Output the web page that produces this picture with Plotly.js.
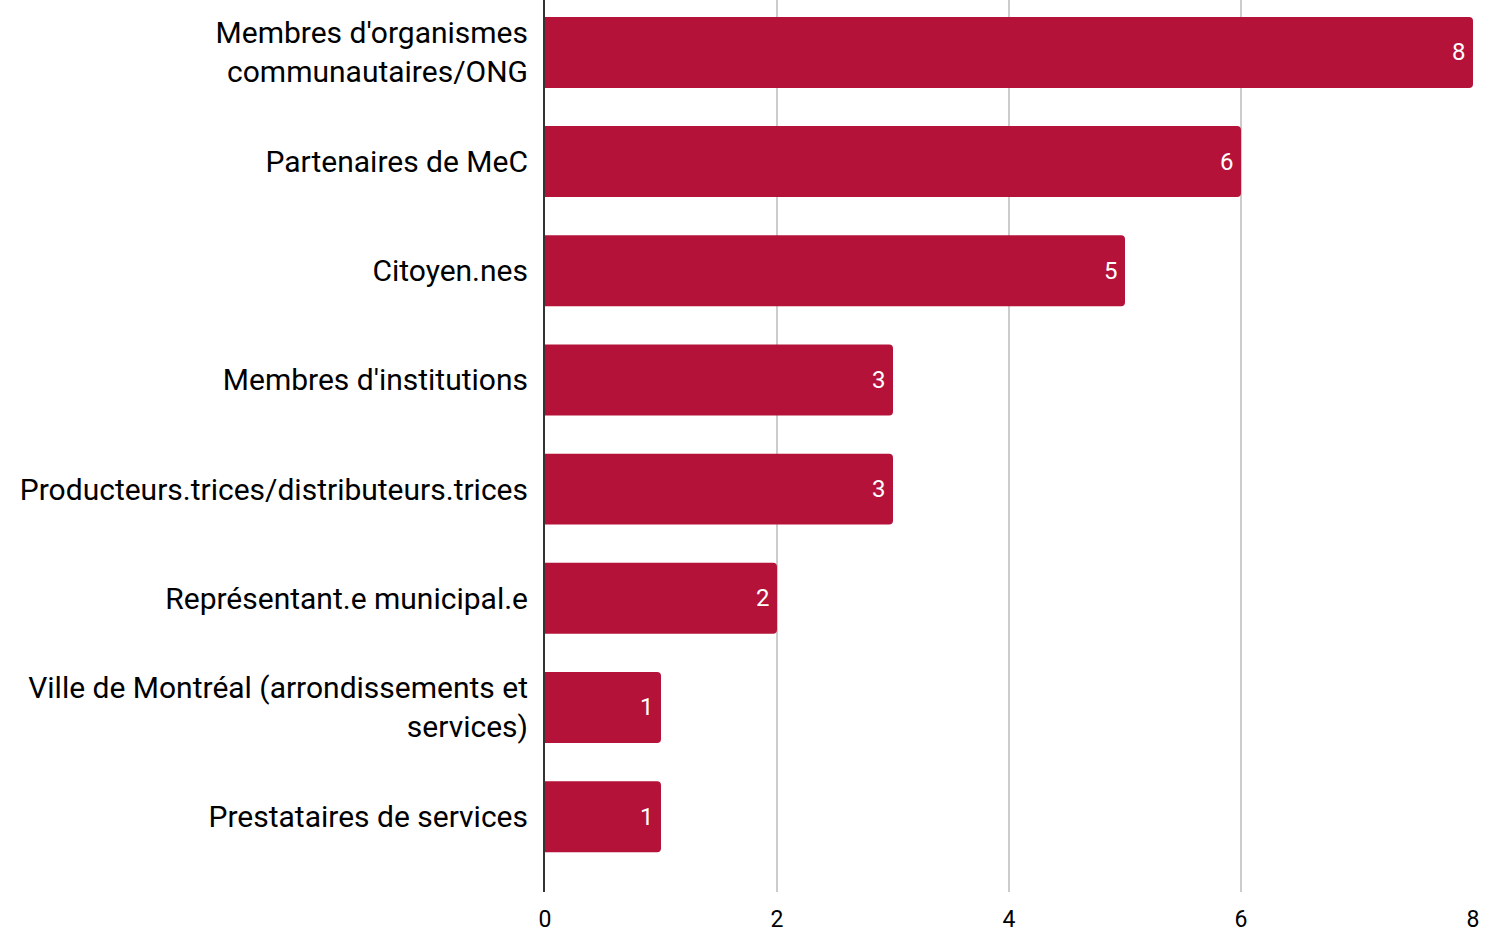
<!DOCTYPE html>
<html>
<head>
<meta charset="utf-8">
<script src="https://cdn.plot.ly/plotly-3.0.1.min.js"></script>
<style>html,body{margin:0;padding:0;background:#fff;}#chart{width:1493px;height:932px;}</style>
</head>
<body>
<div id="chart"></div>
<script>
const categories = [
  "Membres d'organismes communautaires/ONG",
  "Partenaires de MeC",
  "Citoyen.nes",
  "Membres d'institutions",
  "Producteurs.trices/distributeurs.trices",
  "Représentant.e municipal.e",
  "Ville de Montréal (arrondissements et services)",
  "Prestataires de services"
];
const tickLabels = [
  "Membres d'organismes<br>communautaires/ONG",
  "Partenaires de MeC",
  "Citoyen.nes",
  "Membres d'institutions",
  "Producteurs.trices/distributeurs.trices",
  "Représentant.e municipal.e",
  "Ville de Montréal (arrondissements et<br>services)",
  "Prestataires de services"
];
const values = [8, 6, 5, 3, 3, 2, 1, 1];
const xTicks = [0, 2, 4, 6, 8];

const trace = {
  type: 'bar',
  orientation: 'h',
  x: values,
  y: categories,
  marker: {color: '#b5123a', cornerradius: 4},
  hoverinfo: 'none'
};

const annotations = values.map((v, i) => ({
  x: v,
  y: categories[i],
  xref: 'x',
  yref: 'y',
  text: String(v),
  showarrow: false,
  xanchor: 'right',
  yanchor: 'middle',
  xshift: -5,
  font: {family: 'Roboto, Arial, sans-serif', size: 24, color: '#ffffff'}
}));

const layout = {
  width: 1493,
  height: 932,
  margin: {l: 545, r: 20, t: 0, b: 40},
  paper_bgcolor: '#ffffff',
  plot_bgcolor: '#ffffff',
  bargap: 0.35,
  showlegend: false,
  annotations: annotations,
  font: {family: 'Roboto, Arial, sans-serif', color: '#000000'},
  xaxis: {
    range: [0, 8],
    tickvals: xTicks,
    ticktext: xTicks.map(String),
    showgrid: true,
    gridcolor: '#cccccc',
    gridwidth: 1.5,
    zeroline: false,
    showline: false,
    ticks: 'outside',
    ticklen: 6,
    tickcolor: 'rgba(0,0,0,0)',
    tickfont: {family: 'Roboto, Arial, sans-serif', size: 23, color: '#000000'},
    fixedrange: true
  },
  yaxis: {
    type: 'category',
    categoryorder: 'array',
    categoryarray: categories,
    tickvals: categories,
    ticktext: tickLabels,
    range: [7.69, -0.48],
    showgrid: false,
    showline: true,
    linecolor: '#333333',
    linewidth: 2,
    ticks: 'outside',
    ticklen: 9,
    tickcolor: 'rgba(0,0,0,0)',
    tickfont: {family: 'Roboto, Arial, sans-serif', size: 30, color: '#000000'},
    fixedrange: true
  }
};

Plotly.newPlot('chart', [trace], layout, {displayModeBar: false, staticPlot: true});
</script>
</body>
</html>
